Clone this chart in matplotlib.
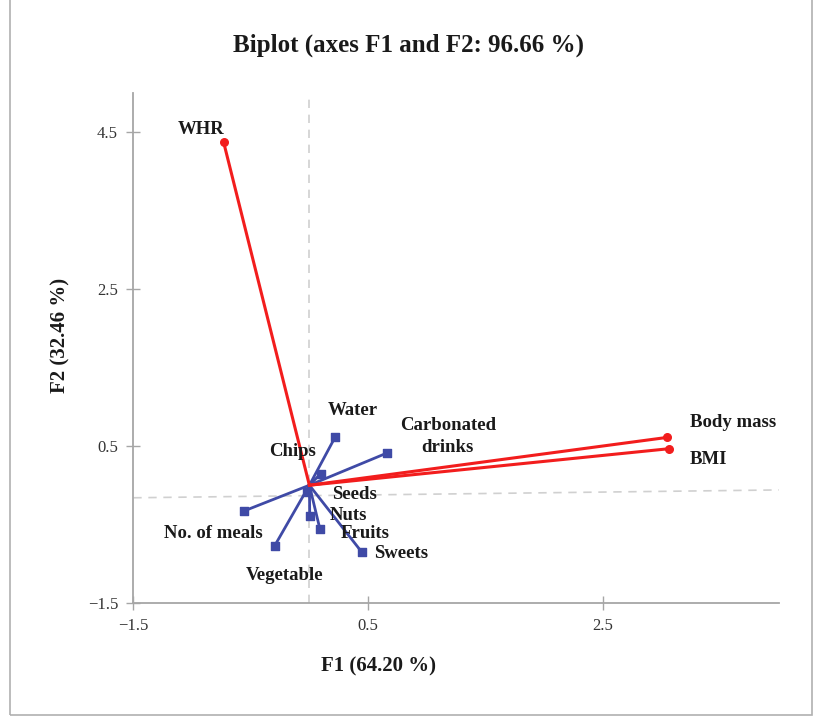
import matplotlib
matplotlib.use('Agg')
import matplotlib.pyplot as plt
from matplotlib.patches import Rectangle

plt.rcParams['font.family'] = ['Liberation Serif', 'DejaVu Serif']

# 变量名与坐标 (F1, F2)
body_names = ['WHR', 'Body mass', 'BMI']
body_f1 = [-0.73, 3.05, 3.06]
body_f2 = [4.37, 0.61, 0.465]

diet_names = ['Water', 'Carbonated\ndrinks', 'Chips', 'Seeds', 'Nuts', 'Fruits',
              'Sweets', 'Vegetable', 'No. of meals']
diet_f1 = [0.22, 0.66, 0.095, -0.02, 0.003, 0.09, 0.445, -0.295, -0.56]
diet_f2 = [0.615, 0.41, 0.145, -0.08, -0.39, -0.56, -0.85, -0.77, -0.33]

ticks = [-1.5, 0.5, 2.5, 4.5]
tick_labels = ['\u22121.5', '0.5', '2.5', '4.5']

# 标签位置 (x, y, ha)
label_pos = {
    'WHR': (-0.92, 4.53, 'center'),
    'Body mass': (3.24, 0.80, 'left'),
    'BMI': (3.24, 0.325, 'left'),
    'Water': (0.37, 0.95, 'center'),
    'Carbonated\ndrinks': (1.18, 0.62, 'center'),
    'Chips': (-0.14, 0.43, 'center'),
    'Seeds': (0.19, -0.12, 'left'),
    'Nuts': (0.175, -0.39, 'left'),
    'Fruits': (0.27, -0.62, 'left'),
    'Sweets': (0.55, -0.865, 'left'),
    'Vegetable': (-0.21, -1.15, 'center'),
    'No. of meals': (-0.815, -0.61, 'center'),
}

red = '#f21d1d'
blue = '#3f4aa6'
grid_c = '#d0d0d0'
axis_c = '#a6a6a6'

fig = plt.figure(figsize=(8.13, 7.16), dpi=100)
ax = fig.add_axes([0.164, 0.158, 0.794, 0.712])

# 虚线参考线
ax.plot([0, 0], [-1.5, 5.0], ls=(0, (5, 4)), color=grid_c, lw=1.2, zorder=1)
ax.plot([-1.5, 4.0], [-0.16, -0.06], ls=(0, (5, 4)), color=grid_c, lw=1.2, zorder=1)

for x, y in zip(diet_f1, diet_f2):
    ax.plot([0, x], [0, y], color=blue, lw=2.0, zorder=2)
ax.scatter(diet_f1, diet_f2, marker='s', s=38, color=blue, zorder=3)

for x, y in zip(body_f1, body_f2):
    ax.plot([0, x], [0, y], color=red, lw=2.2, zorder=4)
ax.scatter(body_f1, body_f2, marker='o', s=30, color=red, zorder=5)

for name in body_names + diet_names:
    lx, ly, ha = label_pos[name]
    ax.text(lx, ly, name, ha=ha, va='center', fontsize=13.5, fontweight='bold',
            color='#1a1a1a', linespacing=1.35, zorder=6)

ax.set_xlim(-1.5, 4.0)
ax.set_ylim(-1.5, 5.0)
ax.set_xticks(ticks[:3])
ax.set_xticklabels(tick_labels[:3])
ax.set_yticks(ticks)
ax.set_yticklabels(tick_labels)
ax.tick_params(direction='inout', length=10, width=1, color=axis_c,
               labelsize=12, labelcolor='#333333', pad=6)
for s in ['top', 'right']:
    ax.spines[s].set_visible(False)
for s in ['left', 'bottom']:
    ax.spines[s].set_color(axis_c)
    ax.spines[s].set_linewidth(1.3)

ax.set_xlabel('F1 (64.20 %)', fontsize=15, fontweight='bold', color='#1a1a1a')
ax.xaxis.set_label_coords(0.38, -0.105)
ax.set_ylabel('F2 (32.46 %)', fontsize=15, fontweight='bold', color='#1a1a1a')
ax.yaxis.set_label_coords(-0.097, 0.525)

fig.text(0.502, 0.937, 'Biplot (axes F1 and F2: 96.66 %)', ha='center', va='center',
         fontsize=18, fontweight='bold', color='#1a1a1a')

fig.patches.append(Rectangle((9.5 / 813, 1.0 / 716), 802 / 813, 1.2, transform=fig.transFigure,
                             fill=False, edgecolor='#b0b0b0', lw=1.2))

fig.savefig('out.png', dpi=100)
